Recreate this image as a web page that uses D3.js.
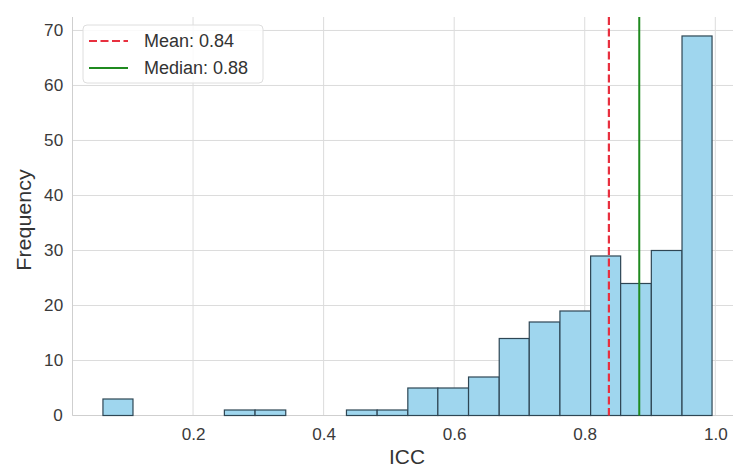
<!DOCTYPE html>
<html>
<head>
<meta charset="utf-8">
<script src="https://cdn.jsdelivr.net/npm/d3@7"></script>
<style>
  body { margin: 0; background: #fff; }
  svg { display: block; font-family: "Liberation Sans", Arial, sans-serif; }
  .tick text { transform-box: fill-box; transform-origin: center; transform: scaleX(1.07); }
</style>
</head>
<body>
<svg id="chart" width="733" height="469"></svg>
<script>
// histogram of ICC values (20 bins)
const binEdges = [0.062, 0.108, 0.155, 0.202, 0.248, 0.295, 0.342, 0.388, 0.435, 0.482,
                  0.529, 0.575, 0.622, 0.669, 0.715, 0.762, 0.809, 0.855, 0.902, 0.949, 0.995];
const counts = [3, 0, 0, 0, 1, 1, 0, 0, 1, 1, 5, 5, 7, 14, 17, 19, 29, 24, 30, 69];
const meanVal = 0.837;
const medianVal = 0.8835;
const xTicks = [0.2, 0.4, 0.6, 0.8, 1.0];
const yTicks = [0, 10, 20, 30, 40, 50, 60, 70];

const svg = d3.select("#chart");
const margin = { top: 17, left: 72.5, bottom: 415.5, right: 742.5 };

const bins = counts.map((c, i) => ({ x0: binEdges[i], x1: binEdges[i + 1], count: c }));

// matplotlib-ish 5% margins on x
const lo = binEdges[0], hi = binEdges[binEdges.length - 1];
const pad = (hi - lo) * 0.05;
const x = d3.scaleLinear().domain([lo - pad, hi + pad]).range([margin.left, margin.right]);
const y = d3.scaleLinear().domain([0, d3.max(counts) * 1.05]).range([margin.bottom, margin.top]);

// grid
const grid = svg.append("g").attr("stroke", "#dcdcdc").attr("stroke-width", 1);
grid.selectAll(".gx").data(xTicks).join("line")
    .attr("x1", d => x(d)).attr("x2", d => x(d))
    .attr("y1", margin.top).attr("y2", margin.bottom);
grid.selectAll(".gy").data(yTicks).join("line")
    .attr("x1", margin.left).attr("x2", margin.right)
    .attr("y1", d => y(d)).attr("y2", d => y(d));

// spines (left + bottom only)
svg.append("line").attr("x1", margin.left).attr("x2", margin.left)
    .attr("y1", margin.top).attr("y2", margin.bottom).attr("stroke", "#cfcfcf");
svg.append("line").attr("x1", margin.left).attr("x2", margin.right)
    .attr("y1", margin.bottom).attr("y2", margin.bottom).attr("stroke", "#cfcfcf");

// bars
svg.append("g").selectAll("rect").data(bins.filter(d => d.count > 0)).join("rect")
    .attr("x", d => x(d.x0))
    .attr("width", d => x(d.x1) - x(d.x0))
    .attr("y", d => y(d.count))
    .attr("height", d => y(0) - y(d.count))
    .attr("fill", "#9fd6ee")
    .attr("stroke", "#2e4654")
    .attr("stroke-width", 1.2);

// mean / median lines
svg.append("line")
    .attr("x1", x(meanVal)).attr("x2", x(meanVal))
    .attr("y1", margin.top).attr("y2", margin.bottom)
    .attr("stroke", "#e8303f").attr("stroke-width", 2.2).attr("stroke-dasharray", "8,3.5");
svg.append("line")
    .attr("x1", x(medianVal)).attr("x2", x(medianVal))
    .attr("y1", margin.top).attr("y2", margin.bottom)
    .attr("stroke", "#1f8a1f").attr("stroke-width", 2);

// axes
const xAxis = svg.append("g")
    .attr("transform", `translate(0,${margin.bottom})`)
    .call(d3.axisBottom(x).tickValues(xTicks).tickFormat(d3.format(".1f")).tickSize(0).tickPadding(13));
const yAxis = svg.append("g")
    .attr("transform", `translate(${margin.left},0)`)
    .call(d3.axisLeft(y).tickValues(yTicks).tickSize(0).tickPadding(10));
[xAxis, yAxis].forEach(g => {
    g.select(".domain").remove();
    g.selectAll("text").attr("fill", "#3a3a3a").style("font-size", "16px");
});

// axis labels
svg.append("text")
    .attr("transform", "translate(407,464) scale(1.07,1)")
    .attr("text-anchor", "middle")
    .attr("fill", "#333")
    .style("font-size", "19.5px")
    .text("ICC");
svg.append("text")
    .attr("transform", "translate(31,220) rotate(-90) scale(1.1,1)")
    .attr("text-anchor", "middle")
    .attr("fill", "#333")
    .style("font-size", "19.5px")
    .text("Frequency");

// legend
const legendItems = [
    { label: `Mean: ${meanVal.toFixed(2)}`, color: "#e8303f", dash: "8,3.5", width: 2.2 },
    { label: `Median: ${medianVal.toFixed(2)}`, color: "#1f8a1f", dash: null, width: 2 }
];
const legend = svg.append("g");
legend.append("rect")
    .attr("x", 83).attr("y", 25).attr("width", 180).attr("height", 58)
    .attr("rx", 4)
    .attr("fill", "#fff").attr("fill-opacity", 0.85)
    .attr("stroke", "#dedede");
const rows = legend.selectAll(".row").data(legendItems).join("g")
    .attr("transform", (d, i) => `translate(0,${41 + i * 27})`);
rows.append("line")
    .attr("x1", 89).attr("x2", 128)
    .attr("stroke", d => d.color)
    .attr("stroke-width", d => d.width)
    .attr("stroke-dasharray", d => d.dash);
rows.append("text")
    .attr("x", 144).attr("dy", "0.36em")
    .attr("fill", "#333")
    .style("font-size", "18px")
    .text(d => d.label);
</script>
</body>
</html>
